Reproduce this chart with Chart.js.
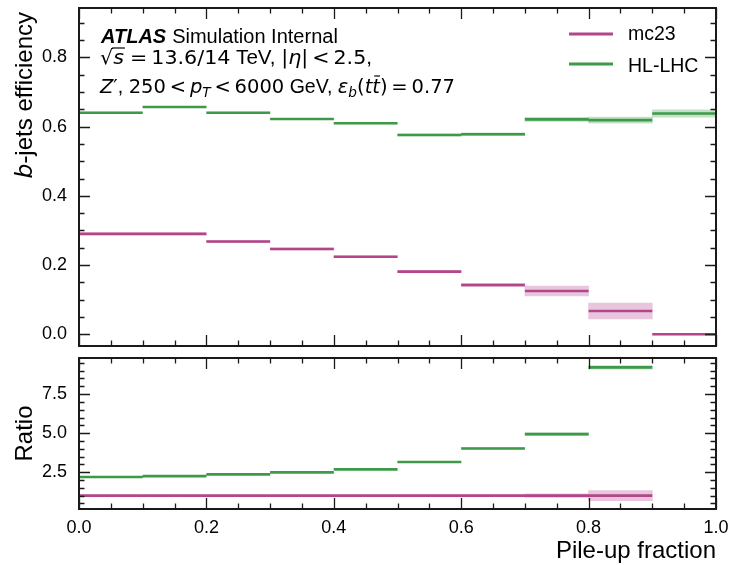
<!DOCTYPE html>
<html><head><meta charset="utf-8">
<script src="https://cdn.jsdelivr.net/npm/chart.js@4.4.1/dist/chart.umd.min.js"></script>
<style>
html,body{margin:0;padding:0;background:#fff;}
#wrap{position:relative;width:734px;height:565px;}
#c1{position:absolute;left:0;top:0;}
#c2{position:absolute;left:0;top:352px;}
</style></head><body>
<div id="wrap"><canvas id="c1" width="734" height="352"></canvas><canvas id="c2" width="734" height="213"></canvas></div>
<script>
// ---- data ----
const binLow  = [0.0, 0.1, 0.2, 0.3, 0.4, 0.5, 0.6, 0.7, 0.8, 0.9];
const binHigh = [0.1, 0.2, 0.3, 0.4, 0.5, 0.6, 0.7, 0.8, 0.9, 1.0];
const seriesNames = ['mc23', 'HL-LHC'];
const effMc23    = [0.290, 0.290, 0.268, 0.2465, 0.224, 0.181, 0.1425, 0.125, 0.067, 0.000];
const effMc23Err = [0.003, 0.003, 0.003, 0.003, 0.003, 0.003, 0.005, 0.0145, 0.023, 0.002];
const effHL      = [0.640, 0.657, 0.640, 0.622, 0.610, 0.576, 0.578, 0.621, 0.619, 0.638];
const effHLErr   = [0.002, 0.002, 0.002, 0.002, 0.002, 0.003, 0.004, 0.006, 0.009, 0.0105];
const ratioMc23    = [1.0, 1.0, 1.0, 1.0, 1.0, 1.0, 1.0, 1.0, 1.0, null];
const ratioMc23Err = [0.02, 0.02, 0.02, 0.02, 0.02, 0.03, 0.04, 0.11, 0.32, null];
const ratioHL      = [2.19, 2.25, 2.36, 2.49, 2.68, 3.15, 4.02, 4.94, 9.21, null];
const ratioHLErr   = [0.02, 0.02, 0.02, 0.02, 0.03, 0.04, 0.05, 0.08, 0.12, null];
const xTickVals = [0.0, 0.2, 0.4, 0.6, 0.8, 1.0];
const effTickVals = [0.0, 0.2, 0.4, 0.6, 0.8];
const ratioTickVals = [2.5, 5.0, 7.5];

const colMc23 = '#b3468a', bandMc23 = 'rgba(179,70,138,0.30)';
const colHL = '#3d9a48', bandHL = 'rgba(61,154,72,0.30)';
const SANS = '"Liberation Sans", Arial, sans-serif';
const MATH = '"DejaVu Sans", sans-serif';

function stepData(vals) {
  const d = [];
  vals.forEach((v, i) => {
    if (v === null) return;
    d.push({x: binLow[i], y: v}, {x: binHigh[i], y: v}, {x: binHigh[i], y: null});
  });
  return d;
}
function bandData(vals, errs) {
  const d = [];
  vals.forEach((v, i) => {
    if (v === null) return;
    d.push({x: (binLow[i] + binHigh[i]) / 2, y: [v - errs[i], v + errs[i]]});
  });
  return d;
}
function lineDs(label, vals, col) {
  return {type: 'line', label, data: stepData(vals), borderColor: col, borderWidth: 2.6,
    pointRadius: 0, spanGaps: false, tension: 0, fill: false, order: 1, borderCapStyle: 'butt'};
}
function bandDs(label, vals, errs, col) {
  return {type: 'bar', label, data: bandData(vals, errs), backgroundColor: col, borderWidth: 0,
    grouped: false, categoryPercentage: 1.0, barPercentage: 1.0, order: 2};
}

function drawRuns(ctx, runs, x, y) {
  let cx = x;
  for (const r of runs) {
    cx += (r.pre || 0);
    ctx.font = r.font;
    const w = ctx.measureText(r.t).width;
    ctx.fillText(r.t, cx, y + (r.dy || 0));
    if (r.over) {
      ctx.save(); ctx.lineWidth = 1.2; ctx.strokeStyle = '#000';
      ctx.beginPath(); ctx.moveTo(cx + (r.ox || 0), y - r.over); ctx.lineTo(cx + w + (r.oe || 0), y - r.over); ctx.stroke();
      ctx.restore();
    }
    cx += w + (r.sp || 0);
  }
  return cx;
}
function runsWidth(ctx, runs) {
  let w = 0;
  for (const r of runs) { ctx.font = r.font; w += ctx.measureText(r.t).width + (r.sp || 0) + (r.pre || 0); }
  return w;
}
function drawRunsFit(ctx, runs, x, y, target) {
  const w = runsWidth(ctx, runs);
  ctx.save();
  ctx.translate(x, y);
  ctx.scale(target / w, 1);
  drawRuns(ctx, runs, 0, 0);
  ctx.restore();
}

function drawFrame(chart, yMinorStep, yMajorEvery, yMinorMax) {
  const {ctx, chartArea: a, scales: {x, y}} = chart;
  ctx.save();
  ctx.strokeStyle = '#1a1a1a';
  ctx.lineWidth = 1.3;
  const ML = 11, mL = 5.5;
  ctx.beginPath();
  for (let i = 0; i <= 20; i++) {
    const px = Math.round(x.getPixelForValue(i * 0.05)) + 0.5;
    const L = (i % 4 === 0) ? ML : mL;
    ctx.moveTo(px, a.bottom); ctx.lineTo(px, a.bottom - L);
    ctx.moveTo(px, a.top); ctx.lineTo(px, a.top + L);
  }
  for (let i = 0; i * yMinorStep <= yMinorMax + 1e-9; i++) {
    const v = i * yMinorStep;
    if (v < y.min || v > y.max) continue;
    const py = Math.round(y.getPixelForValue(v)) + 0.5;
    const L = (i % yMajorEvery === 0) ? ML : mL;
    ctx.moveTo(a.left, py); ctx.lineTo(a.left + L, py);
    ctx.moveTo(a.right, py); ctx.lineTo(a.right - L, py);
  }
  ctx.stroke();
  ctx.lineWidth = 2;
  ctx.strokeRect(a.left, a.top, a.right - a.left, a.bottom - a.top);
  ctx.restore();
}

const topPlugin = {
  id: 'topDeco',
  afterDraw(chart) {
    const ctx = chart.ctx;
    drawFrame(chart, 0.05, 4, 0.9);
    ctx.save();
    ctx.fillStyle = '#000';
    ctx.textBaseline = 'alphabetic';
    ctx.textAlign = 'left';
    // y label
    const ylRuns = [{t: 'b', font: 'italic 23.5px ' + MATH}, {t: '-jets efficiency', font: '24px ' + SANS}];
    const w = runsWidth(ctx, ylRuns);
    ctx.save();
    ctx.translate(32, 12 + w);
    ctx.rotate(-Math.PI / 2);
    drawRuns(ctx, ylRuns, 0, 0);
    ctx.restore();
    // ATLAS label
    drawRuns(ctx, [{t: 'ATLAS', font: 'italic bold 20px ' + SANS, sp: 6}, {t: 'Simulation Internal', font: '20px ' + SANS}], 101, 43);
    const M = '20px ' + MATH, MI = 'italic 20px ' + MATH, MS = 'italic 14px ' + MATH, T = '20px ' + SANS;
    const K = 3.9;
    drawRunsFit(ctx, [
      {t: '\u221A', font: M},
      {t: 's', font: MI, over: 16, ox: -1, oe: 1, sp: 2},
      {t: '=', font: M, pre: K, sp: K},
      {t: '13.6/14', font: M},
      {t: ' TeV, ', font: T},
      {t: '|', font: M},
      {t: '\u03B7', font: MI},
      {t: '|', font: M},
      {t: '<', font: M, pre: K, sp: K},
      {t: '2.5', font: M},
      {t: ',', font: T}
    ], 100, 64, 272);
    drawRunsFit(ctx, [
      {t: 'Z', font: MI},
      {t: '\u2032', font: M},
      {t: ', ', font: T},
      {t: '250', font: M},
      {t: '<', font: M, pre: K, sp: K},
      {t: 'p', font: MI},
      {t: 'T', font: MS, dy: 4},
      {t: '<', font: M, pre: K, sp: K},
      {t: '6000', font: M},
      {t: ' GeV, ', font: T},
      {t: '\u03B5', font: MI},
      {t: 'b', font: MS, dy: 4},
      {t: '(', font: M},
      {t: 't', font: MI},
      {t: 't', font: MI, over: 17, ox: 2},
      {t: ')', font: M},
      {t: '=', font: M, pre: K, sp: K},
      {t: '0.77', font: M}
    ], 100, 93, 355);
    // legend
    const leg = [[seriesNames[0], colMc23, 34, 40], [seriesNames[1], colHL, 64, 72]];
    for (const [name, col, ly, ty] of leg) {
      ctx.strokeStyle = col; ctx.lineWidth = 3;
      ctx.beginPath(); ctx.moveTo(569, ly); ctx.lineTo(613, ly); ctx.stroke();
      ctx.font = '19.5px ' + SANS;
      ctx.fillText(name, 628, ty);
    }
    ctx.restore();
  }
};

const botPlugin = {
  id: 'botDeco',
  afterDraw(chart) {
    const ctx = chart.ctx;
    const a = chart.chartArea;
    drawFrame(chart, 0.5, 5, 9.5);
    ctx.save();
    ctx.fillStyle = '#000';
    ctx.font = '24px ' + SANS;
    ctx.textBaseline = 'alphabetic';
    ctx.save();
    ctx.translate(32, (a.top + a.bottom) / 2);
    ctx.rotate(-Math.PI / 2);
    ctx.textAlign = 'center';
    ctx.fillText('Ratio', 0, 0);
    ctx.restore();
    ctx.textAlign = 'right';
    ctx.fillText('Pile-up fraction', 716, 206);
    ctx.restore();
  }
};

function zeroPad(s) { s.paddingTop = 0; s.paddingBottom = 0; s.paddingLeft = 0; s.paddingRight = 0; }
function xScale(showLabels, h) {
  return {
    type: 'linear', min: 0, max: 1, offset: false,
    afterBuildTicks: s => { s.ticks = xTickVals.map(v => ({value: v})); },
    ticks: {display: showLabels, callback: v => Number(v).toFixed(1), font: {family: SANS, size: 18}, color: '#000', padding: 8, maxRotation: 0, autoSkip: false},
    grid: {display: false, drawTicks: false},
    border: {display: false},
    afterFit: s => { s.height = h; zeroPad(s); }
  };
}
function yScale(min, max, vals) {
  return {
    type: 'linear', min, max,
    afterBuildTicks: s => { s.ticks = vals.map(v => ({value: v})); },
    ticks: {callback: v => Number(v).toFixed(1), font: {family: SANS, size: 18}, color: '#000', padding: 12},
    grid: {display: false, drawTicks: false},
    border: {display: false},
    afterFit: s => { s.width = 79; zeroPad(s); }
  };
}

const common = {
  responsive: false, animation: false, devicePixelRatio: 1,
  plugins: {legend: {display: false}, tooltip: {enabled: false}}
};

new Chart(document.getElementById('c1'), {
  type: 'line',
  data: {datasets: [
    lineDs(seriesNames[0], effMc23, colMc23),
    lineDs(seriesNames[1], effHL, colHL),
    bandDs(seriesNames[0] + ' unc.', effMc23, effMc23Err, bandMc23),
    bandDs(seriesNames[1] + ' unc.', effHL, effHLErr, bandHL)
  ]},
  options: Object.assign({}, common, {
    layout: {padding: {left: 0, right: 18, top: 8, bottom: 0}},
    scales: {x: xScale(false, 6), y: yScale(-0.034, 0.943, effTickVals)}
  }),
  plugins: [topPlugin]
});

new Chart(document.getElementById('c2'), {
  type: 'line',
  data: {datasets: [
    lineDs(seriesNames[0], ratioMc23, colMc23),
    lineDs(seriesNames[1], ratioHL, colHL),
    bandDs(seriesNames[0] + ' unc.', ratioMc23, ratioMc23Err, bandMc23),
    bandDs(seriesNames[1] + ' unc.', ratioHL, ratioHLErr, bandHL)
  ]},
  options: Object.assign({}, common, {
    layout: {padding: {left: 0, right: 18, top: 6, bottom: 0}},
    scales: {x: xScale(true, 56), y: yScale(0.147, 9.81, ratioTickVals)}
  }),
  plugins: [botPlugin]
});
</script>
</body></html>
